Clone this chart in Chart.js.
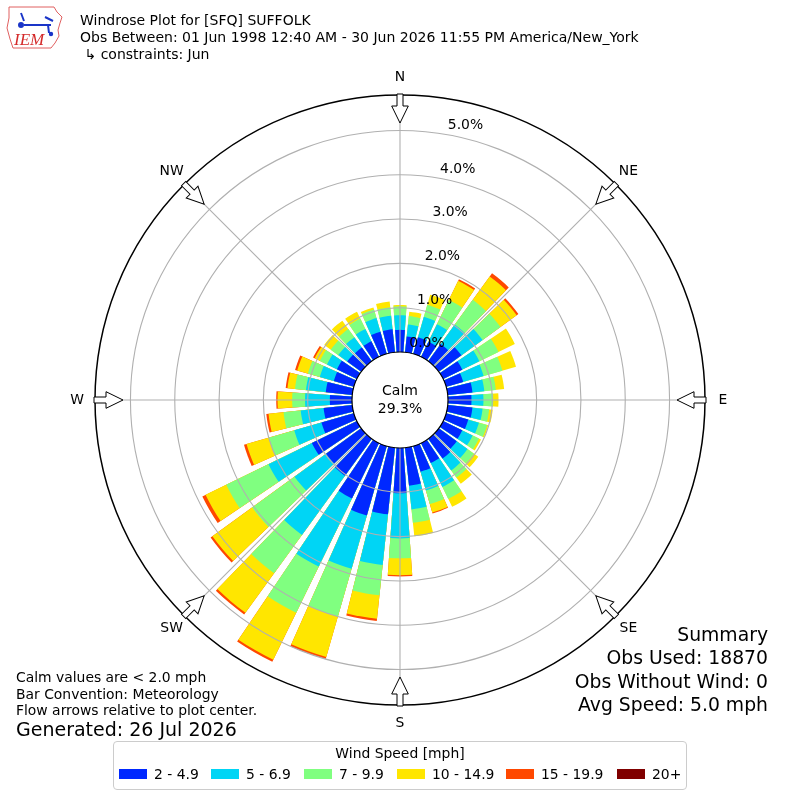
<!DOCTYPE html>
<html>
<head>
<meta charset="utf-8">
<title>Windrose Plot for [SFQ] SUFFOLK</title>
<script src="https://cdn.jsdelivr.net/npm/chart.js@4.4.1/dist/chart.umd.min.js"></script>
<style>
  body { margin: 0; background: #fff; }
  #wrap { position: relative; width: 800px; height: 800px; overflow: hidden; background: #fff;
          font-family: "DejaVu Sans", sans-serif; color: #000; }
  #rose { position: absolute; left: 0; top: 0; }
  .txt { position: absolute; white-space: nowrap; }
  #legend { position: absolute; left: 113px; top: 741px; width: 574px; height: 49px;
            box-sizing: border-box; border: 1px solid #cccccc; border-radius: 4px; }
  .sw { position: absolute; width: 28px; height: 10px; }
</style>
</head>
<body>
<div id="wrap">
  <canvas id="rose" width="800" height="800"></canvas>

  <svg style="position:absolute;left:4px;top:3px" width="62" height="48" viewBox="0 0 62 48">
    <path d="M5 4 L50 4 L53 9 L58 14 L56 20 L54 27 L55 33 L51 40 L47 45 L9 45 L6 36 L3 25 L5 15 Z"
          fill="none" stroke="#e06060" stroke-width="1"/>
    <g stroke="#1a35c8" stroke-width="2" fill="#1a35c8">
      <line x1="20" y1="22" x2="47" y2="22"/>
      <line x1="17" y1="10" x2="20" y2="18"/>
      <line x1="41" y1="14" x2="49" y2="18"/>
      <line x1="44" y1="22" x2="45" y2="30"/>
      <circle cx="17" cy="22" r="2"/>
      <circle cx="47" cy="31" r="1.2"/>
    </g>
    <text x="10" y="42" font-family="Liberation Serif" font-style="italic" font-size="17" fill="#d42a2a">IEM</text>
  </svg>

  <div class="txt" style="left:80px;top:12px;font-size:14px;line-height:17px">
    Windrose Plot for [SFQ] SUFFOLK<br>
    Obs Between: 01 Jun 1998 12:40 AM - 30 Jun 2026 11:55 PM America/New_York<br>
    &nbsp;↳ constraints: Jun
  </div>

  <div class="txt" style="left:16px;top:669px;font-size:13.9px;line-height:16.5px">
    Calm values are &lt; 2.0 mph<br>
    Bar Convention: Meteorology<br>
    Flow arrows relative to plot center.
  </div>
  <div class="txt" style="left:16px;top:718px;font-size:19px;line-height:22px">Generated: 26 Jul 2026</div>

  <div class="txt" style="right:32px;top:623px;font-size:18.8px;line-height:23.3px;text-align:right">
    Summary<br>
    Obs Used: 18870<br>
    Obs Without Wind: 0<br>
    Avg Speed: 5.0 mph
  </div>

  <div id="legend"></div>
</div>

<script>
// Direction of each bar (degrees from north, meteorological convention)
const DIRECTIONS = [0, 10, 20, 30, 40, 50, 60, 70, 80, 90, 100, 110, 120, 130, 140, 150, 160, 170,
                    180, 190, 200, 210, 220, 230, 240, 250, 260, 270, 280, 290, 300, 310, 320, 330, 340, 350];
const COMPASS = ['N', 'NE', 'E', 'SE', 'S', 'SW', 'W', 'NW'];
const SPEED_BINS = ['2 - 4.9', '5 - 6.9', '7 - 9.9', '10 - 14.9', '15 - 19.9', '20+'];

// frequency (% of obs) per direction, one list per speed bin
const PCT_2_5   = [0.50, 0.36, 0.39, 0.38, 0.48, 0.63, 0.48, 0.40, 0.56, 0.53, 0.56, 0.52, 0.48, 0.50, 0.55, 0.50, 0.60, 0.86,
                   1.02, 1.51, 1.63, 1.39, 1.03, 0.98, 1.13, 0.76, 0.65, 0.50, 0.60, 0.47, 0.50, 0.39, 0.38, 0.39, 0.52, 0.52];
const PCT_5_7   = [0.33, 0.27, 0.48, 0.44, 0.54, 0.59, 0.43, 0.48, 0.27, 0.27, 0.23, 0.25, 0.26, 0.30, 0.33, 0.60, 0.44, 0.54,
                   1.02, 1.15, 1.25, 1.71, 1.65, 0.88, 1.09, 0.64, 0.52, 0.56, 0.45, 0.33, 0.25, 0.25, 0.29, 0.31, 0.32, 0.31];
const PCT_7_10  = [0.20, 0.19, 0.28, 0.61, 0.69, 0.50, 0.48, 0.44, 0.26, 0.22, 0.15, 0.19, 0.16, 0.18, 0.20, 0.30, 0.32, 0.30,
                   0.45, 0.69, 1.12, 1.16, 1.07, 1.18, 1.06, 0.60, 0.39, 0.29, 0.25, 0.28, 0.18, 0.21, 0.23, 0.26, 0.20, 0.19];
const PCT_10_15 = [0.03, 0.10, 0.24, 0.48, 0.65, 0.45, 0.41, 0.32, 0.19, 0.12, 0.08, 0.03, 0.05, 0.12, 0.17, 0.20, 0.20, 0.31,
                   0.38, 0.53, 0.95, 1.18, 1.10, 1.11, 0.52, 0.52, 0.34, 0.33, 0.17, 0.25, 0.13, 0.18, 0.23, 0.17, 0.05, 0.13];
const PCT_15_20 = [0, 0, 0, 0.04, 0.09, 0.05, 0, 0, 0, 0, 0, 0, 0, 0, 0, 0, 0.02, 0,
                   0.03, 0.05, 0.05, 0.05, 0.05, 0.05, 0.08, 0.06, 0.05, 0.03, 0.04, 0.05, 0.04, 0, 0, 0, 0, 0];
const PCT_20_UP = [0, 0, 0, 0, 0, 0, 0, 0, 0, 0, 0, 0, 0, 0, 0, 0, 0, 0,
                   0, 0, 0, 0, 0, 0, 0, 0, 0, 0, 0, 0, 0, 0, 0, 0, 0, 0];
const CALM_PCT = 29.3;
const RING_VALUES = [0, 1, 2, 3, 4, 5];

const BIN_COLORS = ['#0028ff', '#00d5f5', '#80ff80', '#ffe600', '#ff4800', '#800000'];

// radial axis: the calm hole sits below 0 %
const R_MIN = -1.0835;
const R_MAX = 5.80;
const BAR_WIDTH = 8;          // degrees per bar, rest of the 10 deg sector is a gap
const LABEL_ANGLE = 10;       // ring labels ray

// polar area arcs run clockwise from north, so the north bar is split in two halves
function buildArcs(values) {
  const gap = 10 - BAR_WIDTH;
  const data = [values[0]];
  const angles = [BAR_WIDTH / 2];
  for (let i = 1; i < values.length; i++) {
    data.push(R_MIN, values[i]);
    angles.push(gap, BAR_WIDTH);
  }
  data.push(R_MIN, values[0]);
  angles.push(gap, BAR_WIDTH / 2);
  return { data, angles };
}

const BIN_SERIES = [PCT_2_5, PCT_5_7, PCT_7_10, PCT_10_15, PCT_15_20, PCT_20_UP];
let running = DIRECTIONS.map(() => 0);
const datasets = BIN_SERIES.map((series, b) => {
  running = running.map((v, i) => v + series[i]);
  const outer = running.map((v, i) => series[i] > 0 ? v : R_MIN);
  const arcs = buildArcs(outer);
  return {
    label: SPEED_BINS[b],
    data: arcs.data,
    angle: ctx => arcs.angles[ctx.dataIndex],
    backgroundColor: BIN_COLORS[b],
    borderWidth: 0
  };
});

// calm circle, ring labels, flow arrows, compass labels
const roseDecor = {
  id: 'roseDecor',
  afterDraw(chart) {
    const scale = chart.scales.r;
    const c = chart.ctx;
    const cx = scale.xCenter, cy = scale.yCenter;
    const r0 = scale.getDistanceFromCenterForValue(0);
    c.save();
    c.beginPath();
    c.arc(cx, cy, r0, 0, Math.PI * 2);
    c.fillStyle = '#fff';
    c.fill();
    c.lineWidth = 1.2;
    c.strokeStyle = '#000';
    c.stroke();

    c.fillStyle = '#000';
    c.font = '14px "DejaVu Sans"';
    c.textAlign = 'center';
    c.textBaseline = 'middle';
    c.fillText('Calm', cx, cy - 9);
    c.fillText(CALM_PCT.toFixed(1) + '%', cx, cy + 9);

    c.font = '13.9px "DejaVu Sans"';
    c.textAlign = 'left';
    c.textBaseline = 'bottom';
    const a = LABEL_ANGLE * Math.PI / 180;
    RING_VALUES.forEach(v => {
      const r = scale.getDistanceFromCenterForValue(v);
      c.fillText(v.toFixed(1) + '%', cx + r * Math.sin(a) + 1, cy - r * Math.cos(a) - 2);
    });

    c.textAlign = 'center';
    c.textBaseline = 'middle';
    COMPASS.forEach((name, i) => {
      const ang = scale.getIndexAngle(i) - Math.PI / 2;
      c.save();
      c.translate(cx, cy);
      c.rotate(ang);
      c.beginPath();
      c.moveTo(306, -3);
      c.lineTo(294, -3);
      c.lineTo(294, -8.3);
      c.lineTo(277, 0);
      c.lineTo(294, 8.3);
      c.lineTo(294, 3);
      c.lineTo(306, 3);
      c.closePath();
      c.fillStyle = '#fff';
      c.fill();
      c.lineWidth = 1;
      c.strokeStyle = '#000';
      c.stroke();
      c.restore();
      const p = scale.getPointPosition(i, 323);
      c.fillStyle = '#000';
      c.fillText(name, p.x, p.y);
    });
    c.restore();
  }
};

new Chart(document.getElementById('rose'), {
  type: 'polarArea',
  data: {
    labels: COMPASS,
    datasets: datasets
  },
  options: {
    responsive: false,
    animation: false,
    events: [],
    layout: { padding: 95 },
    plugins: {
      legend: { display: false },
      tooltip: { enabled: false }
    },
    scales: {
      r: {
        min: R_MIN,
        max: R_MAX,
        startAngle: 0,
        afterBuildTicks: scale => {
          scale.ticks = RING_VALUES.concat([R_MAX]).map(v => ({ value: v }));
        },
        ticks: { display: false, z: 1 },
        grid: {
          circular: true,
          z: 1,
          color: ctx => ctx.tick.value === 0 ? 'rgba(0,0,0,0)' : (ctx.tick.value >= R_MAX ? '#000' : '#b0b0b0'),
          lineWidth: ctx => ctx.tick.value >= R_MAX ? 1.5 : 1.1
        },
        angleLines: { display: true, color: '#b0b0b0', lineWidth: 1.1 },
        pointLabels: { display: false }
      }
    }
  },
  plugins: [roseDecor]
});

// legend box under the rose
const LEGEND_X = [119, 211, 304, 397, 506, 617];
const legend = document.getElementById('legend');
const title = document.createElement('div');
title.className = 'txt';
title.style.cssText = 'left:0;width:100%;top:3px;text-align:center;font-size:13.9px;line-height:16px';
title.textContent = 'Wind Speed [mph]';
legend.appendChild(title);
SPEED_BINS.forEach((name, b) => {
  const sw = document.createElement('div');
  sw.className = 'sw';
  sw.style.left = (LEGEND_X[b] - 114) + 'px';
  sw.style.top = '27px';
  sw.style.background = BIN_COLORS[b];
  legend.appendChild(sw);
  const t = document.createElement('div');
  t.className = 'txt';
  t.style.cssText = 'top:24px;font-size:13.9px;line-height:16px';
  t.style.left = (LEGEND_X[b] - 114 + 35) + 'px';
  t.textContent = name;
  legend.appendChild(t);
});
</script>
</body>
</html>
